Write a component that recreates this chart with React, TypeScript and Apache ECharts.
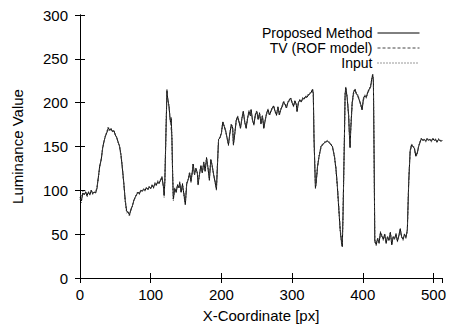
import React, { useEffect, useRef } from "react";
import * as echarts from "echarts";

const xCoords = [
  0, 2, 4, 6, 8, 10, 12, 14, 16, 18,
  20, 22, 24, 26, 28, 30, 32, 34, 36, 38,
  40, 42, 44, 46, 48, 50, 52, 54, 56, 58,
  60, 62, 64, 66, 68, 70, 72, 74, 76, 78,
  80, 82, 84, 86, 88, 90, 92, 94, 96, 98,
  100, 102, 104, 106, 108, 110, 112, 114, 116, 118,
  119, 120, 122, 123, 124, 126, 127, 128, 129, 130,
  131, 132, 134, 136, 138, 140, 141, 143, 145, 147,
  149, 151, 153, 155, 157, 159, 160, 162, 164, 166,
  167, 169, 171, 173, 175, 177, 179, 181, 183, 185,
  187, 189, 191, 193, 195, 196, 198, 200, 202, 204,
  206, 208, 210, 212, 214, 216, 217, 219, 221, 223,
  225, 227, 229, 231, 233, 235, 237, 239, 241, 242,
  244, 246, 248, 250, 252, 254, 256, 258, 260, 262,
  264, 266, 268, 270, 272, 274, 276, 278, 280, 282,
  284, 286, 288, 290, 292, 294, 296, 298, 300, 302,
  304, 306, 307, 309, 311, 313, 315, 317, 319, 321,
  323, 325, 327, 329, 330, 331, 333, 334, 336, 338,
  341, 344, 347, 350, 352, 354, 357, 360, 362, 364,
  366, 368, 370, 371, 372, 374, 375, 376, 378, 380,
  381, 382, 383, 385, 387, 389, 391, 393, 395, 397,
  399, 401, 403, 405, 407, 409, 411, 413, 414, 415,
  416, 417, 419, 421, 423, 425, 427, 429, 431, 433,
  435, 437, 439, 441, 443, 445, 447, 449, 451, 453,
  455, 457, 459, 461, 463, 465, 467, 469, 471, 473,
  475, 477, 479, 481, 483, 485, 487, 489, 491, 493,
  495, 497, 499, 501, 503, 505, 507, 509, 511, 512,
];

const proposed = [
  92, 88, 97, 95, 98, 94, 98, 95, 100, 96,
  98, 97, 102, 115, 128, 135, 148, 156, 162, 166,
  171, 169, 170, 167, 168, 163, 160, 155, 150, 140,
  125, 108, 88, 76, 75, 72, 78, 82, 88, 92,
  95, 98, 96, 100, 99, 101, 100, 103, 101, 104,
  102, 106, 103, 108, 106, 110, 108, 112, 115, 104,
  94, 110, 180, 214, 205, 195, 185, 178, 182, 160,
  120, 90, 102, 98, 106, 103, 109, 98, 107, 95,
  84, 108, 112, 120, 110, 122, 130, 118, 125, 120,
  107, 118, 128, 120, 132, 122, 137, 126, 112, 135,
  128, 118, 110, 101, 140, 158, 160, 165, 178, 173,
  168, 160, 152, 165, 175, 171, 152, 165, 180, 184,
  178, 171, 182, 190, 178, 171, 182, 190, 185, 192,
  180, 175, 186, 190, 181, 188, 176, 185, 171, 180,
  188, 192, 186, 190, 194, 196, 190, 186, 195, 186,
  192, 196, 201, 198, 194, 200, 203, 205, 200, 196,
  202, 198, 190, 200, 203, 201, 205, 204, 207, 206,
  209, 210, 212, 215, 210, 160, 103, 108, 127, 138,
  150, 153, 155, 156, 155, 153, 150, 138, 125, 105,
  80, 55, 40, 36, 70, 160, 210, 217, 205, 185,
  165, 149, 170, 200, 212, 215, 210, 208, 203, 198,
  192, 205, 208, 206, 212, 215, 218, 228, 232, 225,
  140, 42, 38, 45, 40, 52, 48, 44, 50, 40,
  47, 43, 52, 38, 47, 45, 50, 42, 48, 56,
  47, 44, 50, 46, 55, 110, 145, 152, 150, 148,
  139, 142, 150, 155, 159, 157, 158, 156, 159, 157,
  158, 156, 159, 157, 158, 155, 158, 157, 156, 157,
];

const tvRof = [
  95, 94, 96, 96, 97, 96, 97, 96, 98, 97,
  98, 98, 103, 116, 127, 136, 147, 156, 162, 166,
  169, 169, 169, 168, 167, 164, 160, 155, 149, 139,
  124, 107, 89, 78, 75, 74, 77, 82, 88, 92,
  95, 97, 97, 99, 100, 101, 101, 102, 102, 103,
  103, 105, 104, 107, 107, 109, 109, 111, 113, 105,
  98, 112, 178, 212, 205, 195, 186, 180, 180, 158,
  118, 93, 101, 100, 105, 104, 107, 100, 105, 97,
  88, 107, 112, 118, 112, 121, 128, 119, 124, 120,
  110, 118, 126, 121, 130, 124, 135, 126, 115, 133,
  127, 119, 111, 104, 140, 157, 160, 165, 176, 173,
  167, 160, 154, 164, 173, 170, 155, 165, 179, 182,
  178, 173, 181, 188, 179, 173, 182, 188, 185, 190,
  181, 177, 185, 189, 182, 187, 178, 184, 174, 180,
  187, 190, 187, 190, 193, 195, 191, 188, 194, 188,
  192, 195, 200, 198, 195, 200, 202, 203, 200, 197,
  201, 198, 193, 200, 202, 202, 204, 204, 206, 206,
  208, 210, 211, 213, 210, 158, 106, 110, 127, 138,
  149, 153, 155, 156, 155, 153, 150, 139, 126, 106,
  82, 57, 42, 40, 72, 158, 208, 215, 205, 186,
  166, 152, 170, 198, 210, 213, 210, 207, 203, 199,
  194, 203, 207, 207, 211, 214, 218, 226, 229, 224,
  138, 44, 41, 44, 42, 50, 47, 45, 48, 42,
  46, 44, 50, 41, 46, 45, 48, 44, 48, 53,
  47, 45, 49, 47, 53, 112, 144, 151, 150, 147,
  141, 143, 150, 155, 158, 157, 157, 157, 158, 157,
  157, 157, 158, 157, 157, 156, 157, 157, 157, 157,
];

const inputSignal = [
  90, 86, 99, 94, 100, 92, 99, 94, 101, 95,
  99, 96, 104, 114, 129, 134, 149, 155, 163, 167,
  173, 168, 171, 166, 169, 162, 161, 154, 151, 141,
  126, 107, 87, 74, 76, 70, 79, 81, 89, 91,
  96, 99, 95, 101, 98, 102, 99, 104, 100, 105,
  101, 107, 102, 109, 105, 111, 107, 113, 116, 103,
  92, 108, 182, 215, 204, 196, 184, 177, 183, 161,
  121, 88, 103, 97, 107, 102, 110, 97, 108, 94,
  83, 109, 113, 121, 109, 123, 131, 117, 126, 119,
  105, 119, 129, 119, 133, 121, 138, 125, 111, 136,
  129, 117, 109, 100, 141, 159, 161, 166, 179, 174,
  169, 159, 151, 166, 176, 172, 151, 166, 181, 185,
  179, 170, 183, 191, 177, 170, 183, 191, 186, 193,
  179, 174, 187, 191, 180, 189, 175, 186, 170, 181,
  189, 193, 185, 191, 195, 197, 189, 185, 196, 185,
  193, 197, 202, 199, 193, 201, 204, 206, 201, 195,
  203, 197, 189, 201, 204, 200, 206, 205, 208, 207,
  210, 211, 213, 216, 211, 161, 102, 107, 128, 139,
  151, 154, 156, 157, 156, 154, 151, 137, 124, 104,
  79, 54, 39, 35, 69, 161, 211, 218, 206, 184,
  164, 148, 171, 201, 213, 216, 211, 209, 204, 197,
  191, 206, 209, 205, 213, 216, 219, 229, 233, 226,
  141, 41, 37, 46, 39, 53, 49, 43, 51, 39,
  48, 42, 53, 37, 48, 44, 51, 41, 49, 57,
  46, 43, 51, 45, 56, 109, 146, 153, 151, 149,
  138, 141, 151, 156, 160, 158, 159, 155, 160, 158,
  159, 155, 160, 158, 159, 154, 159, 158, 155, 157,
];

const seriesNames = ["Proposed Method", "TV (ROF model)", "Input"];
const xTitle = "X-Coordinate [px]";
const yTitle = "Luminance Value";

const FONT = "'Liberation Sans', Arial, Helvetica, sans-serif";

function pairs(ys: number[]) {
  return xCoords.map((x, i) => [x, ys[i]]);
}

export default function App() {
  const ref = useRef<HTMLDivElement>(null);
  useEffect(() => {
    if (!ref.current) return;
    const chart = echarts.init(ref.current, undefined, { renderer: "svg" });
    const axisCommon = {
      axisLine: { show: true, lineStyle: { color: "#000", width: 1 } },
      axisTick: { show: true, inside: true, length: 5, lineStyle: { color: "#000" } },
      splitLine: { show: false },
    };
    chart.setOption({
      animation: false,
      backgroundColor: "#fff",
      grid: { left: 80, right: 6, top: 15, bottom: 49, containLabel: false },
      legend: {
        orient: "vertical",
        right: 24,
        top: 21,
        align: "right",
        itemWidth: 42,
        itemHeight: 14,
        itemGap: 1,
        itemStyle: { opacity: 0 },
        lineStyle: { width: 1 },
        textStyle: { fontSize: 14, lineHeight: 14, color: "#000", fontFamily: FONT },
        data: seriesNames,
      },
      xAxis: [
        {
          type: "value",
          min: 0,
          max: 512,
          interval: 100,
          position: "bottom",
          name: xTitle,
          nameLocation: "middle",
          nameGap: 30,
          nameTextStyle: { fontSize: 15, color: "#000", fontFamily: FONT },
          axisLabel: { fontSize: 15, color: "#000", fontFamily: FONT, margin: 9, showMaxLabel: false },
          ...axisCommon,
        },
        {
          type: "value",
          min: 0,
          max: 512,
          interval: 100,
          position: "top",
          axisLabel: { show: false },
          ...axisCommon,
        },
      ],
      yAxis: [
        {
          type: "value",
          min: 0,
          max: 300,
          interval: 50,
          position: "left",
          name: yTitle,
          nameLocation: "middle",
          nameGap: 55,
          nameTextStyle: { fontSize: 15, color: "#000", fontFamily: FONT },
          axisLabel: { fontSize: 15, color: "#000", fontFamily: FONT, margin: 12 },
          ...axisCommon,
        },
        {
          type: "value",
          min: 0,
          max: 300,
          interval: 50,
          position: "right",
          axisLabel: { show: false },
          ...axisCommon,
        },
      ],
      series: [
        {
          name: seriesNames[0],
          type: "line",
          data: pairs(proposed),
          showSymbol: false,
          symbol: "none",
          lineStyle: { color: "#000", width: 1, type: "solid" },
          itemStyle: { color: "#000" },
        },
        {
          name: seriesNames[1],
          type: "line",
          data: pairs(tvRof),
          showSymbol: false,
          symbol: "none",
          lineStyle: { color: "#444", width: 1, type: [3, 2] },
          itemStyle: { color: "#444" },
        },
        {
          name: seriesNames[2],
          type: "line",
          data: pairs(inputSignal),
          showSymbol: false,
          symbol: "none",
          lineStyle: { color: "#333", width: 1, type: [1, 2] },
          itemStyle: { color: "#333" },
        },
      ],
    });
    return () => chart.dispose();
  }, []);
  return (
    <div
      ref={ref}
      style={{ position: "fixed", left: 0, top: 0, width: 449, height: 328, background: "#fff" }}
    />
  );
}
